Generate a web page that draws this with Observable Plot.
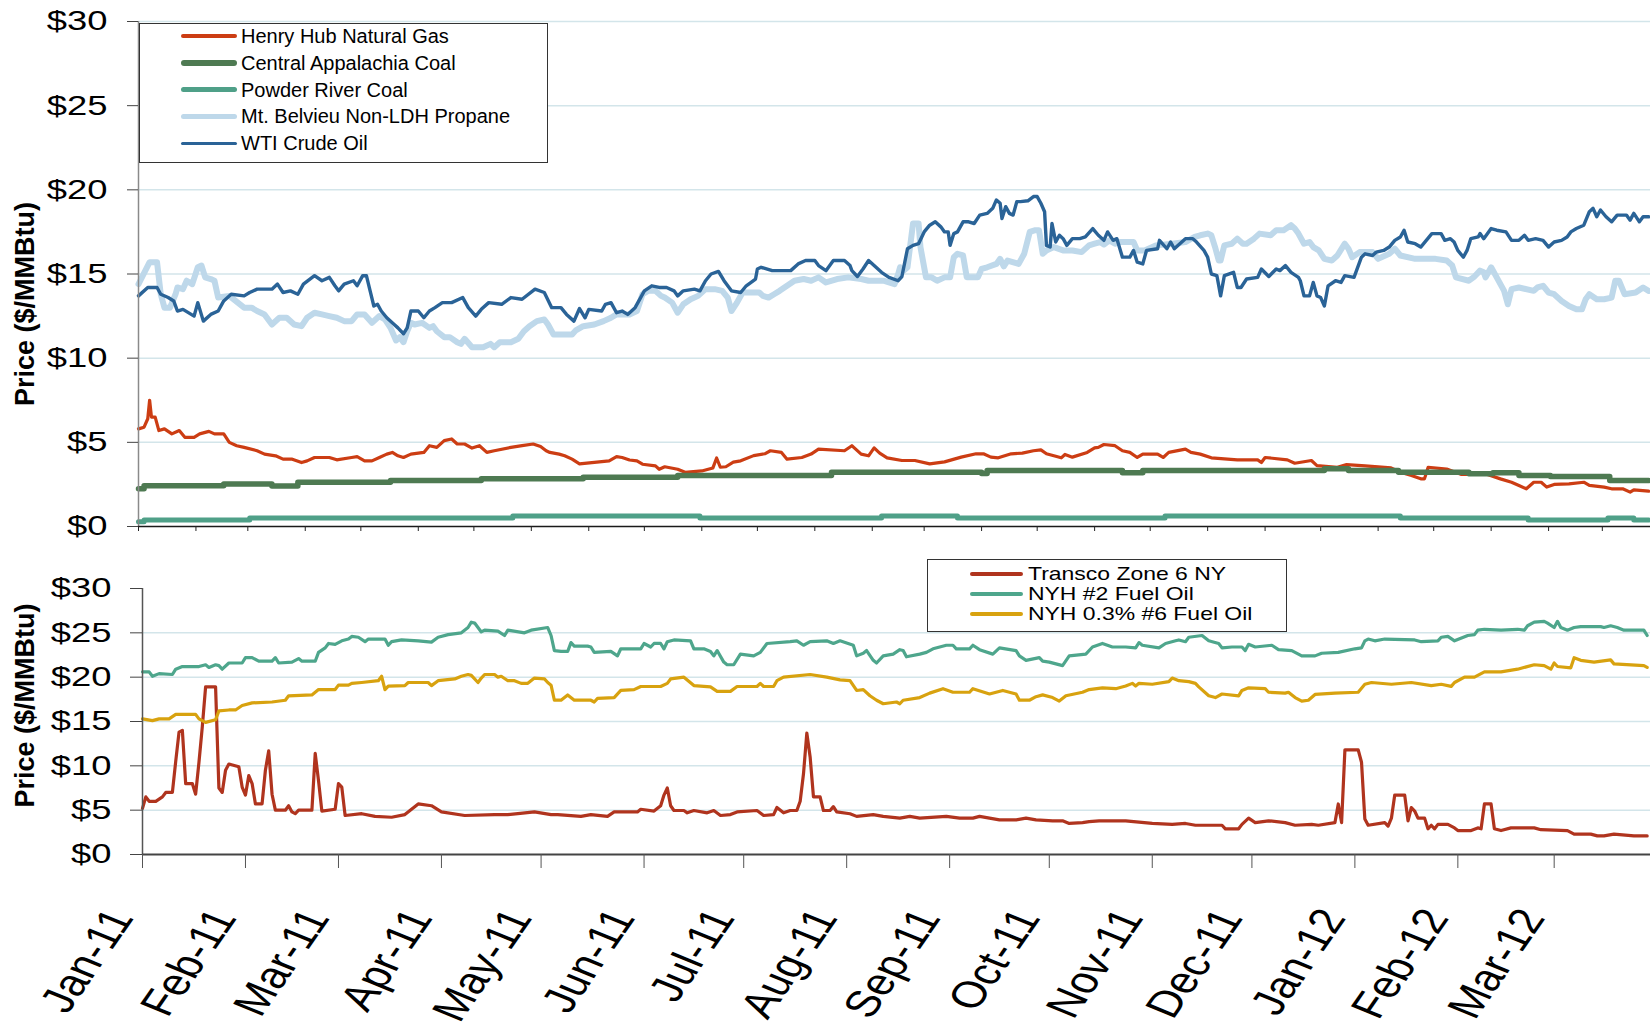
<!DOCTYPE html>
<html>
<head>
<meta charset="utf-8">
<script src="https://cdn.jsdelivr.net/npm/d3@7"></script>
<script src="https://cdn.jsdelivr.net/npm/@observablehq/plot@0.6"></script>
<style>
html, body { margin: 0; padding: 0; background: #fff; }
#wrap { position: relative; width: 1650px; height: 1033px; overflow: hidden; font-family: "Liberation Sans", Arial, sans-serif; }
#topChart, #botChart { position: absolute; left: 0; }
#topChart { top: 0; }
#botChart { top: 540px; }
.legend { position: absolute; background: #fff; border: 1px solid #333; box-sizing: border-box; }
.legend .sw { position: absolute; border-radius: 3px; }
.legend .lb { position: absolute; color: #000; white-space: nowrap; line-height: 1; }
</style>
</head>
<body>
<div id="wrap">
  <div id="topChart"></div>
  <div id="botChart"></div>
  <div id="legTop" class="legend" style="left:139px;top:23px;width:409px;height:140px"></div>
  <div id="legBot" class="legend" style="left:927px;top:559px;width:360px;height:73px"></div>
</div>
<script>
// ---------- DATA (day offset from start date, $/MMBtu) ----------
const topStartStr = "2010-01-01";
const topEndStr = "2012-03-27";
const botStartStr = "2011-01-01";
const botEndStr = "2012-03-30";

const topSeriesNames = ["Henry Hub Natural Gas", "Central Appalachia Coal", "Powder River Coal", "Mt. Belvieu Non-LDH Propane", "WTI Crude Oil"];
const botSeriesNames = ["Transco Zone 6 NY", "NYH #2 Fuel Oil", "NYH 0.3% #6 Fuel Oil"];
const yTickValues = [0, 5, 10, 15, 20, 25, 30];

const hhData = [[0,5.8],[3,5.9],[5,6.4],[6,7.5],[7,6.5],[9,6.5],[11,5.7],[14,5.8],[18,5.5],[22,5.7],[25,5.3],[30,5.3],[33,5.5],[38,5.65],[41,5.5],[46,5.5],[49,5.0],[53,4.8],[57,4.7],[64,4.5],[68,4.3],[74,4.2],[78,4.0],[83,4.0],[88,3.8],[91,3.9],[95,4.1],[103,4.1],[107,3.96],[115,4.1],[118,4.15],[122,3.9],[126,3.9],[130,4.1],[134,4.3],[137,4.4],[140,4.2],[143,4.1],[147,4.3],[154,4.4],[157,4.8],[161,4.7],[165,5.1],[169,5.2],[172,4.9],[176,4.9],[180,4.66],[184,4.8],[188,4.4],[192,4.5],[201,4.7],[207,4.8],[213,4.9],[217,4.75],[220,4.5],[222,4.4],[227,4.3],[230,4.2],[234,4.0],[238,3.72],[242,3.76],[254,3.9],[258,4.15],[261,4.1],[265,3.95],[269,3.9],[272,3.7],[279,3.6],[281,3.4],[284,3.55],[291,3.4],[295,3.22],[304,3.3],[310,3.48],[312,4.07],[314,3.52],[317,3.55],[321,3.82],[325,3.9],[332,4.21],[338,4.32],[341,4.5],[347,4.4],[350,4.0],[358,4.1],[363,4.3],[367,4.6],[381,4.5],[385,4.8],[386,4.7],[390,4.3],[394,4.2],[397,4.67],[400,4.36],[404,4.08],[412,3.92],[419,3.92],[427,3.72],[435,3.84],[444,4.12],[452,4.32],[456,4.32],[460,4.12],[464,4.08],[471,4.32],[477,4.36],[483,4.5],[487,4.55],[490,4.32],[498,4.08],[500,4.28],[504,4.12],[512,4.4],[516,4.67],[518,4.7],[521,4.87],[527,4.8],[531,4.5],[535,4.4],[539,4.1],[542,4.3],[550,4.3],[553,4.1],[556,4.4],[565,4.6],[568,4.4],[573,4.3],[579,4.08],[593,3.96],[604,3.96],[606,3.8],[608,4.1],[620,3.96],[624,3.76],[633,3.92],[636,3.62],[647,3.52],[652,3.68],[662,3.6],[676,3.48],[681,3.23],[687,3.03],[692,2.83],[694,2.83],[696,3.52],[706,3.41],[714,3.09],[728,3.09],[735,2.83],[741,2.63],[745,2.44],[749,2.24],[753,2.63],[757,2.63],[760,2.34],[764,2.5],[772,2.53],[780,2.63],[783,2.44],[791,2.34],[795,2.24],[801,2.24],[805,2.04],[807,2.18],[815,2.1]];

const cappData = [[0,2.24],[3,2.42],[46,2.53],[72,2.4],[86,2.63],[136,2.73],[185,2.83],[240,2.93],[291,3.03],[374,3.23],[455,3.15],[458,3.33],[531,3.19],[542,3.33],[640,3.43],[653,3.33],[680,3.23],[718,3.13],[731,3.19],[745,3.03],[762,2.97],[794,2.73],[815,2.73]];

const prbData = [[0,0.28],[3,0.38],[60,0.5],[202,0.63],[303,0.5],[401,0.63],[442,0.5],[554,0.63],[681,0.5],[750,0.38],[793,0.5],[807,0.38],[815,0.38]];

const propaneData = [[0,14.4],[6,15.7],[10,15.7],[12,13.8],[14,13.0],[17,13.0],[20,13.8],[21,14.2],[24,14.1],[26,14.6],[29,14.4],[32,15.4],[34,15.5],[36,14.8],[39,14.7],[41,14.6],[43,13.6],[49,13.7],[57,13.0],[61,13.0],[64,12.8],[68,12.6],[72,12.0],[76,12.4],[80,12.4],[84,12.0],[88,11.9],[91,12.4],[95,12.7],[99,12.6],[103,12.5],[107,12.4],[111,12.2],[115,12.2],[118,12.6],[122,12.6],[126,12.1],[130,12.5],[133,12.3],[136,11.8],[139,11.05],[141,11.25],[143,10.95],[145,11.6],[147,12.1],[149,12.0],[153,12.1],[157,11.8],[159,11.9],[161,11.6],[165,11.25],[168,11.25],[172,10.95],[174,10.85],[176,11.15],[180,10.65],[186,10.65],[190,10.85],[192,10.65],[195,10.95],[201,10.95],[205,11.15],[208,11.6],[211,11.9],[215,12.2],[219,12.3],[221,12.0],[224,11.4],[230,11.4],[234,11.4],[236,11.65],[240,11.9],[246,12.0],[251,12.2],[255,12.4],[258,12.6],[265,12.6],[269,12.8],[272,13.8],[275,14.0],[279,14.0],[282,13.7],[284,13.6],[288,13.3],[291,12.7],[294,13.2],[298,13.5],[302,13.7],[306,14.1],[311,14.1],[315,14.0],[318,13.6],[320,12.8],[323,13.3],[326,13.9],[335,13.9],[337,13.7],[340,13.6],[343,13.8],[346,14.0],[350,14.3],[354,14.6],[359,14.7],[363,14.6],[367,14.8],[371,14.5],[377,14.7],[383,14.8],[390,14.7],[394,14.6],[402,14.6],[405,14.5],[408,14.4],[410,15.0],[411,15.4],[413,15.2],[415,15.4],[418,18.0],[421,18.0],[422,16.6],[425,14.8],[428,14.8],[431,14.6],[435,14.8],[438,14.8],[440,16.0],[442,16.2],[445,16.1],[447,14.8],[453,14.8],[455,15.3],[458,15.4],[463,15.6],[465,15.9],[467,15.45],[469,15.8],[475,15.6],[478,16.2],[481,17.5],[484,17.6],[486,17.6],[488,16.2],[490,16.4],[494,16.6],[499,16.4],[504,16.4],[509,16.3],[513,16.7],[516,16.8],[519,16.9],[521,16.75],[524,17.0],[527,16.8],[529,16.9],[537,16.9],[539,16.4],[543,16.4],[549,16.7],[558,16.8],[565,16.9],[570,17.2],[573,17.3],[577,17.4],[579,17.3],[581,16.6],[583,15.8],[584,15.8],[586,16.7],[590,16.8],[593,17.1],[596,16.8],[598,16.8],[602,17.1],[605,17.4],[611,17.3],[614,17.6],[618,17.6],[622,17.9],[624,17.7],[626,17.4],[629,16.8],[632,16.9],[634,16.6],[637,16.4],[640,15.9],[644,15.8],[647,16.1],[651,16.8],[653,16.5],[655,16.0],[659,16.3],[666,16.3],[669,15.9],[675,16.2],[678,16.5],[681,16.1],[689,15.9],[700,15.9],[706,15.8],[709,15.5],[711,14.8],[718,14.6],[721,14.85],[724,15.2],[726,15.1],[727,14.8],[730,15.4],[733,14.8],[735,14.4],[737,14.0],[739,13.2],[741,14.1],[745,14.2],[753,14.0],[755,14.2],[758,14.3],[761,13.9],[764,13.8],[768,13.4],[772,13.1],[776,12.9],[779,12.9],[781,13.5],[783,13.8],[787,13.5],[791,13.5],[795,13.6],[797,14.6],[799,14.6],[802,13.8],[808,13.9],[812,14.2],[815,14.0]];

const wtiData = [[0,13.7],[5,14.2],[10,14.2],[12,13.8],[16,13.6],[19,13.4],[21,12.8],[24,12.9],[30,12.5],[32,13.3],[35,12.2],[39,12.6],[43,12.8],[46,13.4],[50,13.8],[57,13.7],[60,13.9],[64,14.1],[72,14.1],[75,14.4],[78,13.9],[82,14.0],[86,13.8],[89,14.4],[95,14.9],[99,14.6],[103,14.8],[106,14.3],[108,14.0],[111,14.4],[116,14.6],[118,14.3],[121,14.9],[123,14.9],[125,14.0],[127,13.1],[129,13.2],[131,12.8],[134,12.4],[138,12.0],[140,11.8],[143,11.45],[145,11.8],[147,12.8],[151,12.8],[154,12.4],[157,12.8],[160,13.0],[164,13.3],[169,13.3],[175,13.6],[178,13.0],[182,12.5],[185,12.9],[189,13.3],[196,13.2],[201,13.6],[207,13.5],[214,14.1],[219,13.9],[223,13.0],[228,13.0],[231,12.6],[235,12.2],[238,12.95],[241,12.4],[243,12.9],[250,12.8],[252,13.2],[255,13.3],[258,12.7],[261,12.8],[264,12.6],[268,13.0],[271,13.6],[273,14.0],[277,14.3],[281,14.2],[285,14.2],[289,14.0],[291,13.7],[294,14.0],[300,14.1],[303,14.0],[306,14.6],[309,15.0],[313,15.15],[316,14.6],[320,14.0],[325,13.9],[328,14.3],[333,14.7],[334,15.3],[336,15.4],[342,15.2],[352,15.2],[356,15.6],[360,15.8],[365,15.8],[367,15.5],[371,15.2],[375,15.8],[381,15.8],[384,15.5],[385,15.2],[388,14.85],[391,15.3],[394,15.8],[397,15.5],[401,15.1],[405,14.8],[410,14.6],[412,14.85],[415,16.5],[418,16.7],[421,16.8],[424,17.5],[427,17.9],[430,18.1],[433,17.8],[435,17.5],[437,17.5],[438,16.7],[440,17.4],[442,17.5],[445,18.1],[448,18.1],[451,18.0],[454,18.5],[458,18.6],[461,18.9],[463,19.4],[465,19.2],[466,18.3],[468,19.0],[470,18.6],[472,18.5],[474,19.3],[476,19.3],[480,19.35],[483,19.6],[485,19.6],[487,19.2],[489,18.7],[490,16.7],[492,16.6],[493,18.0],[495,16.9],[497,17.3],[499,17.1],[501,16.7],[504,17.1],[508,17.1],[511,17.2],[515,17.7],[518,17.3],[521,17.0],[523,17.5],[526,17.0],[528,17.1],[531,16.0],[535,16.0],[537,16.4],[539,15.7],[542,15.6],[544,16.4],[550,16.5],[551,17.0],[555,16.5],[557,16.9],[559,16.5],[562,16.8],[565,17.1],[569,17.1],[571,16.9],[575,16.4],[577,16.0],[579,15.0],[582,14.9],[584,13.7],[586,14.9],[591,15.1],[593,14.2],[595,14.2],[598,14.7],[604,14.8],[606,15.3],[610,14.85],[614,15.3],[616,15.2],[619,15.5],[622,15.1],[626,14.8],[627,14.6],[629,13.7],[632,13.7],[634,14.5],[636,13.7],[638,13.6],[640,13.1],[642,14.3],[646,14.6],[649,14.5],[651,14.9],[656,14.8],[660,16.0],[662,16.2],[666,16.1],[668,16.3],[672,16.4],[675,16.6],[678,17.0],[681,17.2],[683,17.6],[685,16.9],[689,16.8],[692,16.6],[695,17.0],[698,17.4],[703,17.4],[705,17.0],[708,17.1],[710,16.9],[712,16.4],[715,16.0],[717,16.4],[719,17.1],[723,17.2],[724,17.4],[726,17.1],[730,17.7],[733,17.6],[738,17.5],[741,17.0],[745,17.0],[748,17.3],[750,17.0],[754,17.1],[758,17.0],[761,16.6],[764,16.9],[768,17.0],[771,17.2],[773,17.5],[776,17.7],[780,17.9],[783,18.7],[785,18.9],[787,18.4],[789,18.8],[792,18.4],[795,18.1],[798,18.5],[803,18.5],[805,18.2],[807,18.6],[810,18.1],[812,18.4],[815,18.4]];

const transcoData = [[0,5.2],[1,6.5],[2,6.0],[4,6.0],[6,6.5],[7,7.0],[9,7.0],[10,10.5],[11,13.8],[12,14.0],[13,8.0],[15,8.0],[16,6.8],[17,10.4],[18,14.4],[19,18.9],[22,18.9],[23,7.5],[24,7.0],[25,9.5],[26,10.2],[29,9.9],[30,7.6],[31,6.7],[32,8.9],[33,8.0],[34,5.7],[36,5.7],[37,9.5],[38,11.7],[39,6.8],[40,5.0],[43,5.0],[44,5.5],[45,4.8],[46,4.6],[47,5.0],[51,5.0],[52,11.4],[53,8.3],[54,4.9],[58,5.1],[59,8.0],[60,7.6],[61,4.4],[66,4.6],[70,4.3],[75,4.2],[79,4.5],[83,5.7],[87,5.5],[90,4.8],[97,4.4],[106,4.5],[110,4.5],[113,4.6],[118,4.8],[123,4.5],[125,4.5],[132,4.3],[135,4.5],[140,4.3],[142,4.8],[149,4.8],[150,5.1],[154,4.9],[156,5.5],[157,6.7],[158,7.5],[159,5.5],[160,4.96],[163,4.96],[164,4.7],[166,4.96],[170,4.7],[172,4.96],[174,4.4],[177,4.5],[179,4.8],[185,4.96],[187,4.4],[190,4.5],[191,5.3],[193,4.7],[195,4.96],[197,4.96],[198,6.0],[199,9.1],[200,13.7],[201,11.0],[202,6.5],[204,6.5],[205,4.96],[207,4.96],[208,5.4],[209,4.8],[213,4.6],[215,4.3],[220,4.5],[223,4.3],[228,4.1],[231,4.3],[234,4.1],[242,4.3],[246,4.1],[250,4.1],[252,4.3],[255,4.1],[258,3.9],[263,3.9],[266,4.1],[269,3.9],[274,3.8],[277,3.8],[279,3.5],[283,3.6],[285,3.7],[288,3.8],[296,3.8],[304,3.5],[310,3.4],[314,3.5],[317,3.3],[325,3.3],[326,2.9],[330,2.9],[331,3.4],[333,4.1],[335,3.6],[339,3.8],[344,3.6],[347,3.3],[352,3.4],[354,3.3],[359,3.6],[360,5.7],[361,3.6],[362,11.8],[366,11.8],[367,10.4],[368,4.0],[369,3.3],[374,3.6],[375,3.2],[376,4.1],[377,6.7],[380,6.7],[381,3.8],[382,5.3],[383,4.9],[384,4.1],[386,4.1],[387,2.9],[388,3.3],[389,2.9],[390,3.4],[393,3.4],[395,3.0],[396,2.7],[400,2.7],[402,3.0],[403,2.9],[404,5.7],[406,5.7],[407,2.9],[409,2.7],[412,3.0],[419,3.0],[421,2.8],[429,2.7],[431,2.3],[436,2.3],[438,2.1],[440,2.1],[443,2.3],[449,2.1],[453,2.1]];

const nyh2Data = [[0,20.6],[2,20.6],[3,20.1],[5,20.4],[9,20.3],[10,20.9],[12,21.2],[17,21.2],[19,21.4],[20,21.1],[22,21.4],[23,21.3],[24,20.9],[26,21.6],[30,21.6],[31,22.2],[33,22.2],[35,21.8],[39,21.8],[40,22.2],[41,21.6],[45,21.7],[47,22.1],[48,21.8],[52,21.8],[53,22.8],[55,23.3],[56,23.8],[58,23.7],[60,24.1],[62,24.3],[63,24.6],[65,24.5],[67,24.0],[68,24.3],[73,24.3],[74,23.6],[75,24.0],[78,24.2],[83,24.1],[87,23.95],[89,24.5],[92,24.8],[96,25.0],[98,25.6],[99,26.2],[100,26.1],[101,25.6],[102,25.1],[103,25.3],[107,25.2],[109,24.7],[110,25.3],[115,25.0],[117,25.3],[122,25.6],[123,24.7],[124,23.0],[126,22.9],[128,22.9],[129,23.9],[130,23.5],[134,23.5],[135,23.4],[136,22.8],[141,22.9],[143,22.4],[144,23.2],[150,23.2],[151,23.8],[153,23.4],[154,23.8],[156,23.8],[157,23.2],[158,24.0],[160,24.2],[165,24.1],[166,23.2],[169,23.2],[171,22.9],[172,22.4],[173,23.0],[175,21.7],[176,21.4],[178,21.4],[180,22.6],[184,22.4],[186,22.8],[188,23.8],[195,24.0],[197,24.1],[199,23.6],[201,24.0],[206,24.1],[208,23.8],[210,24.1],[214,23.6],[215,22.4],[217,22.7],[218,23.0],[220,21.9],[221,21.6],[223,22.4],[226,22.6],[228,23.1],[229,23.0],[230,22.3],[234,22.6],[236,22.8],[238,23.2],[242,23.6],[244,23.6],[245,23.2],[249,23.2],[250,23.6],[252,23.1],[256,22.6],[258,23.3],[263,23.0],[264,22.4],[266,21.9],[270,22.2],[271,21.8],[273,21.7],[277,21.3],[279,22.4],[284,22.6],[286,23.4],[289,23.8],[292,23.4],[296,23.4],[299,23.3],[300,23.9],[301,23.6],[306,23.3],[308,23.8],[311,24.1],[312,24.2],[314,24.0],[315,24.5],[319,24.7],[321,24.1],[324,23.8],[325,23.3],[328,23.4],[331,23.4],[332,23.0],[333,23.7],[335,23.4],[340,23.6],[342,23.1],[346,23.0],[349,22.4],[353,22.4],[355,22.7],[360,22.8],[365,23.2],[367,23.3],[368,24.1],[369,24.3],[371,24.1],[374,24.3],[383,24.2],[385,24.0],[390,24.1],[391,24.5],[393,24.6],[395,24.1],[399,24.7],[401,24.8],[402,25.3],[404,25.4],[409,25.3],[414,25.4],[416,25.3],[417,25.8],[419,26.2],[422,26.3],[423,26.1],[425,25.6],[426,26.3],[427,25.6],[429,25.3],[431,25.6],[433,25.7],[439,25.7],[440,25.6],[442,25.8],[444,25.6],[446,25.3],[452,25.3],[453,24.7]];

const nyh6Data = [[0,15.3],[3,15.1],[5,15.3],[8,15.3],[10,15.8],[16,15.8],[17,15.3],[19,14.9],[22,15.2],[23,16.2],[26,16.3],[28,16.3],[30,16.8],[33,17.1],[39,17.2],[43,17.4],[44,17.9],[51,18.0],[53,18.6],[58,18.6],[59,19.1],[62,19.1],[63,19.3],[66,19.4],[71,19.6],[72,20.1],[73,18.6],[74,19.0],[79,19.05],[80,19.4],[86,19.4],[87,19.05],[89,19.6],[94,19.8],[96,20.1],[98,20.3],[99,20.2],[101,19.4],[102,19.9],[103,20.3],[106,20.3],[107,20.0],[108,20.1],[110,19.6],[112,19.6],[114,19.3],[116,19.3],[118,19.9],[121,19.8],[122,19.4],[123,19.1],[124,17.4],[126,17.4],[128,18.0],[130,17.4],[135,17.4],[136,17.2],[137,17.6],[142,17.7],[144,18.5],[148,18.6],[150,18.95],[156,18.95],[158,19.3],[159,19.8],[163,20.0],[166,19.05],[171,18.9],[173,18.4],[177,18.4],[179,18.95],[185,18.95],[186,19.3],[187,18.95],[190,18.95],[191,19.6],[193,20.0],[201,20.3],[206,20.0],[210,19.7],[213,19.6],[215,18.5],[217,18.6],[219,17.9],[221,17.4],[223,17.0],[227,17.2],[228,17.0],[229,17.4],[234,17.7],[237,18.2],[241,18.7],[244,18.3],[249,18.3],[250,18.7],[255,18.1],[259,18.5],[263,18.1],[264,17.4],[267,17.4],[269,17.8],[271,18.0],[274,17.7],[276,17.3],[278,17.9],[283,18.3],[285,18.6],[289,18.8],[293,18.7],[296,19.0],[298,19.3],[299,19.0],[300,19.3],[304,19.2],[309,19.5],[310,19.9],[312,19.6],[315,19.5],[317,19.3],[318,18.9],[321,17.9],[323,17.7],[325,18.1],[330,17.9],[331,18.5],[333,18.8],[338,18.7],[339,18.3],[344,18.2],[345,18.3],[347,17.7],[349,17.3],[351,17.4],[353,18.05],[359,18.2],[366,18.3],[368,19.2],[370,19.4],[376,19.2],[382,19.4],[388,19.05],[391,19.2],[394,18.96],[395,19.4],[398,20.0],[401,20.0],[404,20.6],[409,20.6],[414,20.9],[419,21.4],[422,21.3],[424,20.9],[425,21.6],[426,21.2],[430,21.05],[431,22.2],[433,21.9],[437,21.7],[442,21.95],[443,21.5],[452,21.3],[453,21.1]];

// ---------- STYLE ----------
const topColors = ["#cc3d13", "#4e7a52", "#4fa088", "#bed8ea", "#2a6397"];
const topWidths = [3.2, 5.5, 5, 6, 3.4];
const botColors = ["#b0341e", "#4ea68c", "#d8a20f"];
const gridColor = "#d3e5ea";
const FONT = "'Liberation Sans', Arial, sans-serif";

// ---------- BUILD ----------
const parse = s => new Date(s + "T00:00:00Z");
const topStart = parse(topStartStr), topEnd = parse(topEndStr);
const botStart = parse(botStartStr), botEnd = parse(botEndStr);
const toRows = (pairs, start, name) => pairs.map(([d, v]) => ({date: d3.utcDay.offset(start, d), value: v, series: name}));

const topSets = [hhData, cappData, prbData, propaneData, wtiData].map((p, i) => toRows(p, topStart, topSeriesNames[i]));
const botSets = [transcoData, nyh2Data, nyh6Data].map((p, i) => toRows(p, botStart, botSeriesNames[i]));
const topCurves = ["linear", "step-after", "step-after", "linear", "linear"];

const topMonths = d3.utcMonth.range(topStart, d3.utcDay.offset(topEnd, 1));
const botMonths = d3.utcMonth.range(botStart, d3.utcDay.offset(botEnd, 1)).filter(d => d < parse("2012-03-02"));
const fmtMonth = d3.utcFormat("%b-%y");
const dollar = d => "$" + d;

const topPlot = Plot.plot({
  width: 1650, height: 540,
  marginLeft: 138, marginRight: 0, marginTop: 21, marginBottom: 14,
  x: {type: "utc", domain: [topStart, topEnd]},
  y: {domain: [0, 30]},
  style: {fontFamily: FONT, background: "transparent", overflow: "visible", color: "#000"},
  marks: [
    Plot.gridY([5, 10, 15, 20, 25, 30], {stroke: gridColor, strokeOpacity: 1, strokeWidth: 1.5}),
    ...topSets.map((rows, i) => Plot.line(rows, {x: "date", y: "value", stroke: topColors[i], strokeWidth: topWidths[i], curve: topCurves[i], strokeLinejoin: "round", strokeLinecap: "round"})),
    Plot.ruleX([topStart], {stroke: "#8a8a8a", strokeWidth: 1.5}),
    Plot.ruleY([0], {stroke: "#1a1a1a", strokeWidth: 1.5}),
    Plot.axisY(yTickValues, {tickFormat: dollar, tickSize: 11, tickPadding: 20, fontSize: 28, stroke: "#444", label: null}),
    Plot.axisX(topMonths, {tickSize: 5, tickFormat: () => "", stroke: "#222", label: null}),
    Plot.text(["Price ($/MMBtu)"], {frameAnchor: "left", textAnchor: "middle", dx: -113, dy: 30, rotate: -90, fontSize: 27, fontWeight: "bold", fill: "#000"})
  ]
});

const botPlot = Plot.plot({
  width: 1650, height: 493,
  marginLeft: 142, marginRight: 0, marginTop: 48, marginBottom: 179,
  x: {type: "utc", domain: [botStart, botEnd]},
  y: {domain: [0, 30]},
  style: {fontFamily: FONT, background: "transparent", overflow: "visible", color: "#000"},
  marks: [
    Plot.gridY([5, 10, 15, 20, 25], {stroke: gridColor, strokeOpacity: 1, strokeWidth: 1.5}),
    ...botSets.map((rows, i) => Plot.line(rows, {x: "date", y: "value", stroke: botColors[i], strokeWidth: 3.2, strokeLinejoin: "round", strokeLinecap: "round"})),
    Plot.ruleX([botStart], {stroke: "#555", strokeWidth: 1.5}),
    Plot.ruleY([0], {stroke: "#444", strokeWidth: 2}),
    Plot.axisY(yTickValues, {tickFormat: dollar, tickSize: 12, tickPadding: 19, fontSize: 28, stroke: "#444", label: null}),
    Plot.axisX(botMonths, {tickSize: 14, tickFormat: () => "", stroke: "#555", label: null}),
    Plot.text(botMonths, {x: d => d, text: d => fmtMonth(d), frameAnchor: "bottom", dx: -8, dy: 63, rotate: -62, textAnchor: "end", fontSize: 37, fill: "#000"}),
    Plot.text(["Price ($/MMBtu)"], {frameAnchor: "left", textAnchor: "middle", dx: -117, dy: -16, rotate: -90, fontSize: 27, fontWeight: "bold", fill: "#000"})
  ]
});

document.getElementById("topChart").appendChild(topPlot);
document.getElementById("botChart").appendChild(botPlot);

// horizontally stretch tick labels to match the reference's wide glyphs
function stretch(t, s) {
  const tr = t.getAttribute("transform") || "";
  if (tr.includes("rotate(")) t.setAttribute("transform", tr.replace("rotate(", `scale(${s},1) rotate(`));
  else t.setAttribute("transform", tr + ` scale(${s},1)`);
}
for (const svg of [topPlot, botPlot]) {
  svg.querySelectorAll("text").forEach(t => {
    const s = t.textContent;
    if (/^\$\d+$/.test(s)) stretch(t, 1.3);
    else if (/^[A-Z][a-z]{2}-\d\d$/.test(s)) stretch(t, 1.3);
  });
}

// ---------- LEGENDS ----------
function buildLegend(el, names, colors, widths, opts) {
  names.forEach((name, i) => {
    const cy = opts.y0 + i * opts.dy;
    const sw = document.createElement("div");
    sw.className = "sw";
    sw.style.left = opts.lineX0 + "px";
    sw.style.width = (opts.lineX1 - opts.lineX0) + "px";
    sw.style.height = widths[i] + "px";
    sw.style.top = (cy - widths[i] / 2) + "px";
    sw.style.background = colors[i];
    el.appendChild(sw);
    const lb = document.createElement("div");
    lb.className = "lb";
    lb.textContent = name;
    lb.style.left = opts.textX + "px";
    lb.style.top = cy + "px";
    lb.style.fontSize = opts.fontSize + "px";
    lb.style.transformOrigin = "left center";
    lb.style.transform = `translateY(-50%) scaleX(${opts.sx})`;
    el.appendChild(lb);
  });
}
buildLegend(document.getElementById("legTop"), topSeriesNames, topColors, [3.2, 5.5, 5, 5.5, 3.2],
  {y0: 12, dy: 26.8, lineX0: 41, lineX1: 97, textX: 101, fontSize: 20, sx: 1});
buildLegend(document.getElementById("legBot"), botSeriesNames, botColors, [3.2, 3.2, 3.2],
  {y0: 14, dy: 20, lineX0: 42, lineX1: 95, textX: 100, fontSize: 18.5, sx: 1.24});
</script>
</body>
</html>
